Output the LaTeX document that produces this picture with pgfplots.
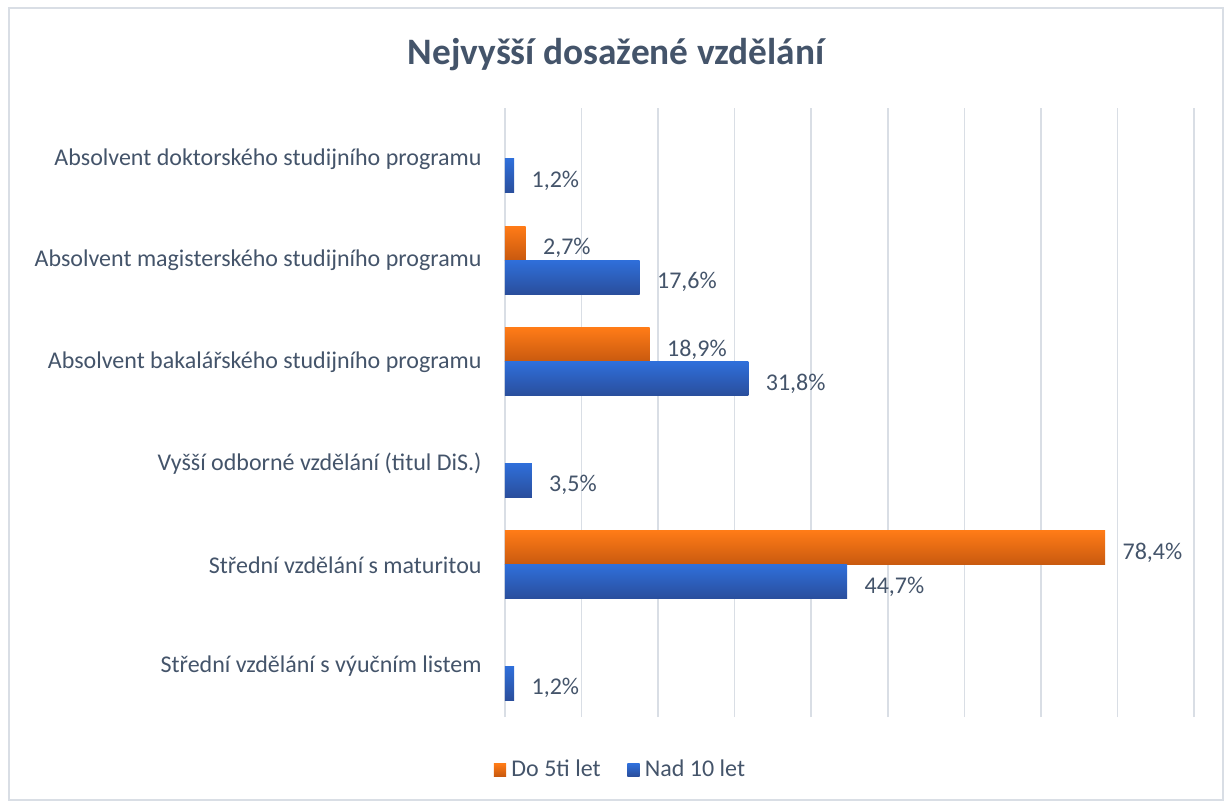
\documentclass[border=0pt]{standalone}
\usepackage{fontspec}
\setmainfont{Carlito}
\usepackage{pgfplots}
\pgfplotsset{compat=1.18}
\definecolor{txt}{HTML}{44546A}
\definecolor{gridc}{HTML}{D9DEE5}
\definecolor{orT}{HTML}{FF7B17}
\definecolor{orB}{HTML}{C8590F}
\definecolor{blT}{HTML}{2F6FDA}
\definecolor{blB}{HTML}{2A4E9C}
\pgfplotsset{
  orbar/.style={draw=none, top color=orT, bottom color=orB, bar shift=6.375pt},
  blbar/.style={draw=none, top color=blT, bottom color=blB, bar shift=-6.375pt},
}
\begin{document}
\begin{tikzpicture}
\useasboundingbox (0,0) rectangle (459.375pt,300.75pt);
\draw[gridc, line width=0.75pt] (3.1875pt,0.9375pt) rectangle (458.4375pt,297.5625pt);
\begin{axis}[
  at={(189.375pt,31.875pt)}, anchor=south west,
  scale only axis, width=258.375pt, height=228.375pt,
  xbar, bar width=12.75pt,
  xmin=0, xmax=90, ymin=-0.5, ymax=5.5,
  xtick={0,10,...,90}, xticklabels={},
  ytick={0,...,5},
  yticklabels={{Střední vzdělání s výučním listem},{Střední vzdělání s maturitou},{Vyšší odborné vzdělání (titul DiS.)},{Absolvent bakalářského studijního programu\ },{Absolvent magisterského studijního programu},{Absolvent doktorského studijního programu}},
  axis line style={draw=none},
  major tick length=0pt,
  xmajorgrids, grid style={gridc, line width=0.6pt},
  yticklabel style={font=\fontsize{9}{11}\selectfont, text=txt, xshift=-5.25pt},
  /pgf/number format/assume math mode=true,
  nodes near coords={\pgfmathprintnumber[fixed,fixed zerofill,precision=1,use comma,assume math mode=true]{\pgfplotspointmeta}\%},
  every node near coord/.append style={font=\fontsize{9}{11}\selectfont, text=txt, anchor=west, xshift=3pt, yshift=-1.9pt},
  legend style={at={(axis description cs:0.1700,-0.0870)}, anchor=center, draw=none, fill=none,
    legend columns=2, font=\fontsize{9}{11}\selectfont, text=txt,
    /tikz/every even column/.append style={column sep=8pt}},
  legend image code/.code={\path[#1,draw=none] (0pt,-2.3pt) rectangle (4.6pt,2.3pt);},
]
\addlegendimage{orbar}
\addlegendentry{Do 5ti let}
\addlegendimage{blbar}
\addlegendentry{Nad 10 let}
% Do 5ti let
\addplot[orbar, forget plot] coordinates {(2.7,4)};
\addplot[orbar, forget plot] coordinates {(18.9,3)};
\addplot[orbar, forget plot] coordinates {(78.4,1)};
% Nad 10 let
\addplot[blbar, forget plot] coordinates {(1.2,5)};
\addplot[blbar, forget plot] coordinates {(17.6,4)};
\addplot[blbar, forget plot] coordinates {(31.8,3)};
\addplot[blbar, forget plot] coordinates {(3.5,2)};
\addplot[blbar, forget plot] coordinates {(44.7,1)};
\addplot[blbar, forget plot] coordinates {(1.2,0)};
\end{axis}
\node[font=\fontsize{14}{17}\selectfont\bfseries, text=txt] at (231pt,280.125pt) {Nejvyšší dosažené vzdělání};
\end{tikzpicture}
\end{document}
